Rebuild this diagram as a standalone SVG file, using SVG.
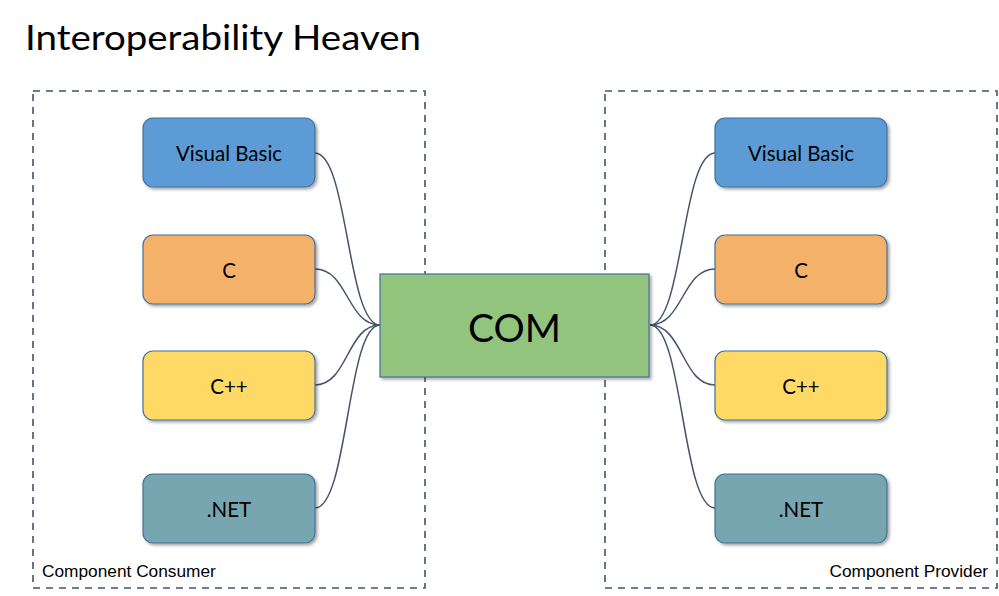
<svg xmlns="http://www.w3.org/2000/svg" width="999" height="596" viewBox="0 0 999 596">
<defs>
<filter id="sh" x="-10%" y="-10%" width="130%" height="130%">
<feDropShadow dx="2" dy="2" stdDeviation="1.5" flood-color="#000" flood-opacity="0.35"/>
</filter>
<style>
.frame{fill:none;stroke:#44546a;stroke-width:1.6;stroke-dasharray:7 6}
.node{stroke:#41719c;stroke-width:1.2;filter:url(#sh)}
.lbl{font-family:Lato,"Open Sans",sans-serif;font-size:20.5px;fill:#000;text-anchor:middle}
.cap{font-family:"Liberation Sans",Arial,sans-serif;font-size:17.3px;fill:#000}
.con{fill:none;stroke:#44546a;stroke-width:1.5}
</style>
</defs>
<rect width="999" height="596" fill="#fff"/>
<text x="25" y="50" font-family="Lato,'Open Sans',sans-serif" font-size="35" textLength="396" lengthAdjust="spacingAndGlyphs">Interoperability Heaven</text>
<g id="consumer">
<rect class="frame" x="33" y="91" width="392" height="497"/>
<text class="cap" x="42" y="577">Component Consumer</text>
</g>
<g id="provider">
<rect class="frame" x="605" y="91" width="392" height="497"/>
<text class="cap" x="988" y="577" text-anchor="end">Component Provider</text>
</g>
<g id="connectors">
<path class="con" d="M315,153 C348,153 347,325 380,325"/>
<path class="con" d="M315,269 C348,269 347,325 380,325"/>
<path class="con" d="M315,385 C348,385 347,325 380,325"/>
<path class="con" d="M315,508 C348,508 347,325 380,325"/>
<path class="con" d="M715,153 C682,153 683,325 650,325"/>
<path class="con" d="M715,269 C682,269 683,325 650,325"/>
<path class="con" d="M715,385 C682,385 683,325 650,325"/>
<path class="con" d="M715,508 C682,508 683,325 650,325"/>
</g>
<g id="l-vb"><rect class="node" x="143" y="118" width="172" height="69" rx="10" fill="#5b9bd5"/><text class="lbl" x="229" y="160.5">Visual Basic</text></g>
<g id="l-c"><rect class="node" x="143" y="235" width="172" height="69" rx="10" fill="#f4b16b"/><text class="lbl" x="229" y="277.5">C</text></g>
<g id="l-cpp"><rect class="node" x="143" y="351" width="172" height="69" rx="10" fill="#ffd966"/><text class="lbl" x="229" y="393.5">C++</text></g>
<g id="l-net"><rect class="node" x="143" y="474" width="172" height="69" rx="10" fill="#77a5b0"/><text class="lbl" x="229" y="516.5">.NET</text></g>
<g id="com"><rect class="node" x="380" y="274" width="269" height="103" fill="#93c47d"/><text x="514.5" y="342" font-family="Lato,'Open Sans',sans-serif" font-size="39" text-anchor="middle">COM</text></g>
<g id="r-vb"><rect class="node" x="715" y="118" width="172" height="69" rx="10" fill="#5b9bd5"/><text class="lbl" x="801" y="160.5">Visual Basic</text></g>
<g id="r-c"><rect class="node" x="715" y="235" width="172" height="69" rx="10" fill="#f4b16b"/><text class="lbl" x="801" y="277.5">C</text></g>
<g id="r-cpp"><rect class="node" x="715" y="351" width="172" height="69" rx="10" fill="#ffd966"/><text class="lbl" x="801" y="393.5">C++</text></g>
<g id="r-net"><rect class="node" x="715" y="474" width="172" height="69" rx="10" fill="#77a5b0"/><text class="lbl" x="801" y="516.5">.NET</text></g>
</svg>
